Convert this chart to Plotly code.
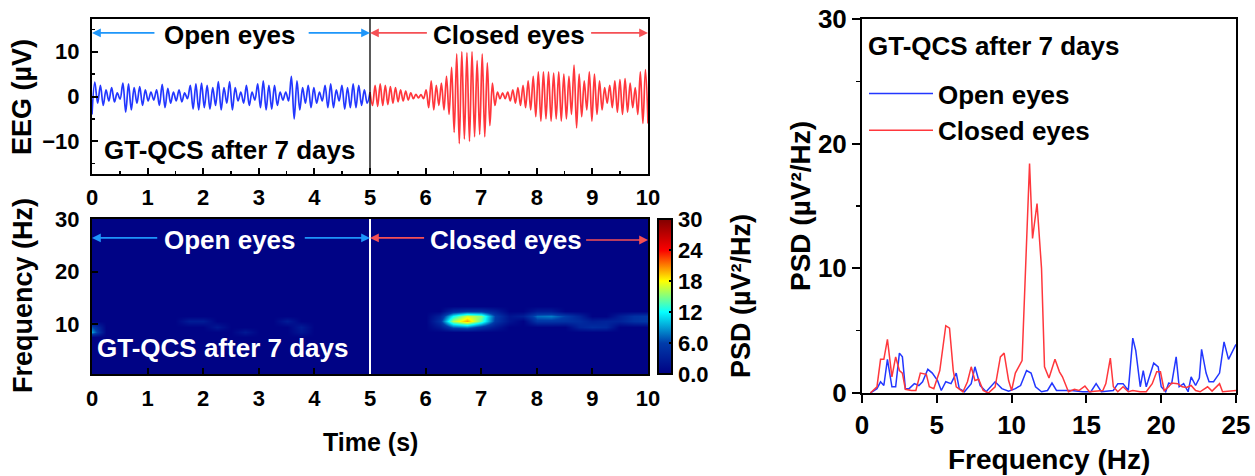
import numpy as np
import plotly.graph_objects as go

W, H = 1255, 476
FONT = "Liberation Sans"

# ---------------- EEG time series (alternating extrema) ----------------
eeg_open = [
    -4.0, 3.2, -1.5, 2.5, -2.0, 1.5, -1.0, 2.0, -1.2, 0.8,
    -0.6, 3.0, -3.5, 2.8, -3.0, 2.0, -1.5, 2.2, -2.0, 1.5,
    -1.0, 1.0, -0.8, 1.5, -2.0, 2.7, -2.5, 1.8, -1.5, 1.0,
    -1.0, 1.5, -1.2, 0.8, -0.5, 2.5, -2.8, 2.8, -3.0, 3.0,
    -2.5, 2.5, -2.8, 2.0, -2.0, 3.3, -3.0, 2.0, -1.5, 3.3,
    -3.0, 2.0, -1.0, 1.0, -1.5, 2.5, -2.0, 1.0, -0.8, 2.8,
    -2.5, 3.5, -3.0, 2.5, -2.8, 2.5, -2.0, 1.0, -0.8, 1.0,
    -1.0, 4.5, -5.0, 3.5, -3.0, 2.0, -1.5, 2.5, -2.5, 2.0,
    -1.5, 1.0, -1.0, 2.5, -2.5, 2.8, -2.5, 1.5, -1.0, 2.5,
    -2.8, 2.0, -2.5, 2.8, -2.5, 2.5, -2.0, 1.5, -1.5, 1.0,
]
eeg_closed = [
    1.0, -2.0, 2.5, -2.2, 2.8, -2.0, 2.5, -1.8, 2.2, -1.5, 2.0,
    -1.2, 1.5, -1.0, 1.2, -0.8, 0.8, -0.5, 0.5, -0.3, 0.4, -0.5,
    1.5, -2.5, 3.5, -3.0, 2.5, -2.0, 3.0, -3.0, 4.5, -4.0, 6.5,
    -8.0, 9.5, -10.5, 10.0, -9.5, 9.8, -10.0, 10.0, -9.0, 8.0, -8.5,
    9.5, -9.0, 7.5, -6.5, 3.0, -2.0, 1.0, -0.5, 0.8, -0.5, 1.0,
    -1.0, 1.5, -1.5, 2.0, -2.0, 2.5, -2.5, 3.5, -3.0, 4.5, -4.5,
    5.5, -5.5, 5.5, -5.0, 5.5, -5.5, 5.2, -5.0, 5.5, -5.5, 5.0,
    -5.0, 4.5, -4.0, 7.0, -7.0, 5.0, -4.5, 3.5, -3.0, 5.5, -5.5,
    5.0, -4.0, 3.5, -3.0, 2.0, -1.5, 2.5, -2.5, 3.5, -3.5, 3.8,
    -4.0, 4.0, -3.5, 3.0, -2.5, 2.0, -4.0, 5.5, -6.0, 6.0, -6.0,
]
t_open = np.linspace(0.0, 5.0, len(eeg_open))
t_closed = np.linspace(5.0, 10.0, len(eeg_closed))

# ---------------- Spectrogram (sparse cells) ----------------
spec_times = np.arange(0.0, 10.001, 0.25)
spec_freqs = np.arange(0.5, 30.5, 1.0)
spec_background = 0.3
blob_t = [6.25, 6.25, 6.25,
          6.5, 6.5, 6.5, 6.5,
          6.75, 6.75, 6.75, 6.75,
          7.0, 7.0, 7.0, 7.0,
          7.25, 7.25, 7.25, 7.25,
          7.5, 7.5,
          7.75, 8.0, 8.0, 8.0, 8.25, 8.25, 8.25, 8.5, 8.5, 8.75, 8.75, 8.75, 9.0, 9.0, 9.25, 9.25,
          9.5, 9.5, 9.75, 9.75, 10.0, 10.0,
          1.75, 2.0, 2.25, 2.75, 3.5, 3.75, 3.75, 0.0, 0.0]
blob_f = [9.5, 10.5, 11.5,
          9.5, 10.5, 11.5, 12.5,
          9.5, 10.5, 11.5, 12.5,
          9.5, 10.5, 11.5, 12.5,
          9.5, 10.5, 11.5, 12.5,
          10.5, 11.5,
          11.5, 10.5, 11.5, 12.5, 10.5, 11.5, 12.5, 10.5, 11.5, 9.5, 10.5, 11.5, 9.5, 10.5, 9.5, 10.5,
          10.5, 11.5, 10.5, 11.5, 10.5, 11.5,
          10.5, 10.5, 9.5, 8.5, 10.5, 9.5, 8.5, 8.5, 9.5]
blob_v = [2.5, 5.0, 3.5,
          7.0, 16.0, 12.0, 4.0,
          8.0, 20.0, 17.0, 5.0,
          5.0, 14.0, 15.0, 5.0,
          2.5, 5.5, 6.0, 3.0,
          2.0, 2.0,
          3.0, 5.5, 7.5, 2.5, 5.5, 8.0, 2.5, 5.0, 6.0, 3.5, 4.5, 3.5, 4.5, 3.0, 4.0, 3.5,
          3.5, 3.0, 5.0, 5.0, 5.5, 5.5,
          2.8, 2.8, 2.4, 2.4, 2.8, 2.8, 2.2, 9.0, 6.5]

spec_z = np.full((len(spec_freqs), len(spec_times)), spec_background)
for bt, bf, bv in zip(blob_t, blob_f, blob_v):
    ti = int(np.argmin(np.abs(spec_times - bt)))
    fi = int(np.argmin(np.abs(spec_freqs - bf)))
    spec_z[fi, ti] = bv

# ---------------- PSD ----------------
psd_open_f = [0.56, 1.0, 1.24, 1.46, 1.7, 2.0, 2.25, 2.5, 2.7, 2.9, 3.15, 3.5, 3.8, 4.05, 4.4, 4.7, 5.05, 5.3,
              5.6, 5.95, 6.3, 6.5, 6.85, 7.3, 7.55, 7.9, 8.3, 8.9, 9.35, 9.8, 10.25, 10.6, 11.0, 11.3, 11.6,
              12.0, 12.4, 12.7, 13.0, 13.5, 14.0, 14.75, 15.3, 15.65, 16.0, 16.8, 17.1, 17.45, 17.8, 18.1,
              18.3, 18.6, 18.8, 19.0, 19.5, 19.8, 20.0, 20.3, 20.5, 20.7, 21.0, 21.2, 21.5, 21.8, 22.0, 22.3,
              22.55, 22.7, 23.0, 23.2, 23.5, 23.9, 24.2, 24.5, 25.0]
psd_open_v = [0, 0.35, 0.9, 0.6, 2.7, 0.5, 0.5, 3.2, 2.9, 0.35, 0.35, 0.75, 0.6, 0.9, 1.9, 1.6, 1.0, 0.2,
              0.9, 0.75, 1.6, 0.35, 0.1, 0.75, 2.1, 0.6, 0.1, 0.9, 0.35, 0.15, 0.35, 0.6, 1.8, 1.6, 0.5,
              0.1, 0.2, 0.8, 0.2, 0.2, 0.2, 0.1, 0.1, 0.75, 0.1, 0.2, 0.75, 0.75, 0.2, 4.4,
              3.4, 0.5, 1.8, 0.5, 2.4, 2.1, 0.5, 0.1, 0.8, 0.75, 2.9, 0.5, 0.75, 0.1, 1.3, 0.6,
              1.2, 3.5, 1.6, 0.9, 0.9, 1.6, 4.1, 2.7, 3.9]
psd_closed_f = [0.56, 1.0, 1.24, 1.46, 1.7, 2.0, 2.25, 2.5, 2.7, 2.9, 3.3, 3.6, 3.9, 4.3, 4.5, 4.8, 5.2, 5.6,
                5.85, 6.1, 6.3, 6.75, 7.05, 7.3, 7.55, 7.8, 8.1, 8.45, 8.9, 9.25, 9.5, 9.8, 10.0, 10.25, 10.7,
                11.2, 11.4, 11.7, 12.0, 12.2, 12.5, 12.9, 13.2, 13.4, 13.8, 14.2, 14.5, 14.9, 15.2, 15.65,
                16.1, 16.3, 16.6, 16.8, 17.1, 17.45, 17.8, 18.1, 18.6, 19.0, 19.4, 19.7, 19.95, 20.2, 20.5,
                20.7, 21.1, 21.4, 21.7, 22.0, 22.3, 22.6, 23.1, 23.4, 23.9, 24.1, 24.7, 25.0]
psd_closed_v = [0, 0.5, 2.7, 2.7, 4.3, 1.3, 2.9, 1.8, 1.6, 0.3, 0.2, 0.2, 1.6, 1.5, 0.5, 0.35, 1.8, 5.4,
                5.2, 1.8, 0.5, 0.1, 0.9, 2.1, 1.0, 1.1, 0.2, 0, 0.5, 2.9, 3.2, 1.0, 0.2, 1.6, 2.6,
                18.4, 12.4, 15.2, 10.0, 2.1, 1.2, 2.7, 1.7, 1.3, 0.1, 0.3, 0.2, 0.55, 0.1, 0.15,
                0.2, 0.75, 2.8, 0.5, 0.1, 0.5, 0.1, 0.2, 0.1, 0.1, 0.75, 1.7, 1.7, 0.2, 0.5,
                0.8, 0.75, 0.5, 0.45, 0.6, 0.2, 0.1, 0.5, 0.15, 0.75, 0.1, 0.15, 0.2]

EYES_SPLIT = 5.0
BLUE = "rgb(35,55,255)"
RED = "rgb(255,55,60)"
ARROW_BLUE = "rgb(30,150,250)"
ARROW_RED = "rgb(245,80,85)"

def px_x(p):
    return p / W

def px_y(p):
    return 1 - p / H

fig = go.Figure()

fig.add_trace(go.Scatter(x=t_open, y=eeg_open, mode="lines", line=dict(color=BLUE, width=1.7, shape="spline", smoothing=1.0),
                         xaxis="x", yaxis="y", showlegend=False))
fig.add_trace(go.Scatter(x=t_closed, y=eeg_closed, mode="lines", line=dict(color=RED, width=1.7, shape="spline", smoothing=1.0),
                         xaxis="x", yaxis="y", showlegend=False))

fig.add_trace(go.Heatmap(
    x=spec_times, y=spec_freqs, z=spec_z, colorscale="Jet", zmin=0, zmax=30, zsmooth="best",
    xaxis="x2", yaxis="y2",
    colorbar=dict(
        x=px_x(658), xanchor="left", y=px_y(374), yanchor="bottom",
        len=(374 - 219) / H, lenmode="fraction", thickness=14, thicknessmode="pixels",
        outlinewidth=2, outlinecolor="black", xpad=0, ypad=0,
        tickvals=[0, 6, 12, 18, 24, 30], ticktext=["0.0", "6.0", "12", "18", "24", "30"],
        ticks="inside", ticklen=4, tickwidth=1.5, tickcolor="black",
        tickfont=dict(family=FONT, size=22, color="black", weight="bold"),
    ),
))

fig.add_trace(go.Scatter(x=psd_open_f, y=psd_open_v, mode="lines", name="Open eyes",
                         line=dict(color=BLUE, width=1.5), xaxis="x3", yaxis="y3"))
fig.add_trace(go.Scatter(x=psd_closed_f, y=psd_closed_v, mode="lines", name="Closed eyes",
                         line=dict(color=RED, width=1.5), xaxis="x3", yaxis="y3"))

tick_font_left = dict(family=FONT, size=22, color="black", weight="bold")
tick_font_right = dict(family=FONT, size=26, color="black", weight="bold")

def axis_common(**kw):
    d = dict(showline=True, linewidth=2, linecolor="black", mirror=True, showgrid=False, zeroline=False,
             tickcolor="black", tickwidth=2, automargin=False, fixedrange=True)
    d.update(kw)
    return d

fig.update_layout(
    template="none",
    width=W, height=H, margin=dict(l=0, r=0, t=0, b=0, pad=0, autoexpand=False),
    paper_bgcolor="white", plot_bgcolor="white",
    font=dict(family=FONT, color="black", weight="bold"),
    hovermode=False,
    xaxis=axis_common(domain=[px_x(92), px_x(648)], range=[0, 10], anchor="y", dtick=1, tick0=0,
                      ticks="inside", ticklen=6, tickfont=tick_font_left, ticklabelstandoff=3,
                      minor=dict(ticks="inside", dtick=0.5, tick0=0, ticklen=3, tickcolor="black", tickwidth=1.5)),
    yaxis=axis_common(domain=[px_y(174), px_y(19)], range=[-17.3, 17.3], anchor="x", dtick=10, tick0=0,
                      ticks="inside", ticklen=6, tickfont=tick_font_left, ticklabelstandoff=6,
                      minor=dict(ticks="inside", dtick=5, tick0=0, ticklen=3, tickcolor="black", tickwidth=1.5)),
    xaxis2=axis_common(domain=[px_x(92), px_x(648)], range=[0, 10], anchor="y2", dtick=1, tick0=0,
                       ticks="inside", ticklen=6, tickfont=tick_font_left, ticklabelstandoff=4),
    yaxis2=axis_common(domain=[px_y(374), px_y(219)], range=[0.5, 30], anchor="x2", dtick=10, tick0=0,
                       ticks="inside", ticklen=6, tickfont=tick_font_left, ticklabelstandoff=6),
    xaxis3=axis_common(domain=[px_x(862), px_x(1236)], range=[0, 25], anchor="y3", dtick=5, tick0=0,
                       ticks="outside", ticklen=8, tickfont=tick_font_right),
    yaxis3=axis_common(domain=[px_y(393), px_y(19)], range=[0, 30], anchor="x3", dtick=10, tick0=0,
                       ticks="outside", ticklen=8, tickfont=tick_font_right,
                       minor=dict(ticks="outside", dtick=5, tick0=0, ticklen=4, tickcolor="black", tickwidth=1.5)),
    showlegend=True,
    legend=dict(x=px_x(864), y=px_y(70), xanchor="left", yanchor="top", bgcolor="rgba(0,0,0,0)",
                borderwidth=0,
                font=dict(family=FONT, size=26, color="black", weight="bold"), tracegroupgap=0, itemwidth=64),
)

# vertical separators
fig.add_shape(type="line", xref="x", yref="y domain", x0=EYES_SPLIT, x1=EYES_SPLIT, y0=0, y1=1,
              line=dict(color="black", width=1.3), layer="above")
fig.add_shape(type="line", xref="x2", yref="y2 domain", x0=EYES_SPLIT, x1=EYES_SPLIT, y0=0, y1=1,
              line=dict(color="white", width=2), layer="above")

annotations = []

def label(text, x, y, xref, yref, size, color="black", angle=0, xanchor="center"):
    annotations.append(dict(text=text, x=x, y=y, xref=xref, yref=yref, showarrow=False, textangle=angle,
                            xanchor=xanchor, yanchor="middle",
                            font=dict(family=FONT, size=size, color=color, weight="bold")))

def arrow(x_head, x_tail, y, xref, yref, color):
    annotations.append(dict(text="", x=x_head, y=y, ax=x_tail, ay=y, xref=xref, yref=yref,
                            axref=xref, ayref=yref, showarrow=True, arrowhead=2, arrowsize=1.1,
                            arrowwidth=1.6, arrowcolor=color))

# top panel
label("Open eyes", 2.49, 13.8, "x", "y", 26)
label("Closed eyes", 7.5, 13.8, "x", "y", 26)
arrow(0.0, 1.15, 14.2, "x", "y", ARROW_BLUE)
arrow(5.0, 3.87, 14.2, "x", "y", ARROW_BLUE)
arrow(5.0, 6.05, 14.2, "x", "y", ARROW_RED)
arrow(10.0, 8.95, 14.2, "x", "y", ARROW_RED)
label("GT-QCS after 7 days", 0.18, -11.9, "x", "y", 26, xanchor="left")

# spectrogram panel
label("Open eyes", 2.49, 26.0, "x2", "y2", 26, color="white")
label("Closed eyes", 7.45, 26.0, "x2", "y2", 26, color="white")
arrow(0.0, 1.2, 26.4, "x2", "y2", ARROW_BLUE)
arrow(5.0, 3.8, 26.4, "x2", "y2", ARROW_BLUE)
arrow(5.0, 6.0, 26.4, "x2", "y2", ARROW_RED)
arrow(10.0, 8.86, 26.0, "x2", "y2", ARROW_RED)
label("GT-QCS after 7 days", 0.06, 5.4, "x2", "y2", 26, color="white", xanchor="left")

# right panel
label("GT-QCS after 7 days", 0.27, 27.8, "x3", "y3", 26, xanchor="left")

# axis titles
label("EEG (µV)", px_x(22), px_y(97), "paper", "paper", 27, angle=-90)
label("Frequency (Hz)", px_x(23), px_y(296), "paper", "paper", 27, angle=-90)
label("Time (s)", px_x(370), px_y(442), "paper", "paper", 25)
label("PSD (µV²/Hz)", px_x(741), px_y(296), "paper", "paper", 27, angle=-90)
label("Frequency (Hz)", px_x(1049), px_y(459), "paper", "paper", 28)
label("PSD (µV²/Hz)", px_x(800), px_y(206), "paper", "paper", 28, angle=-90)

fig.update_layout(annotations=annotations)

fig.write_html("out.html", config={"displayModeBar": False, "staticPlot": True},
               post_script="document.body.style.margin='0';document.body.style.padding='0';document.body.style.overflow='hidden';")
